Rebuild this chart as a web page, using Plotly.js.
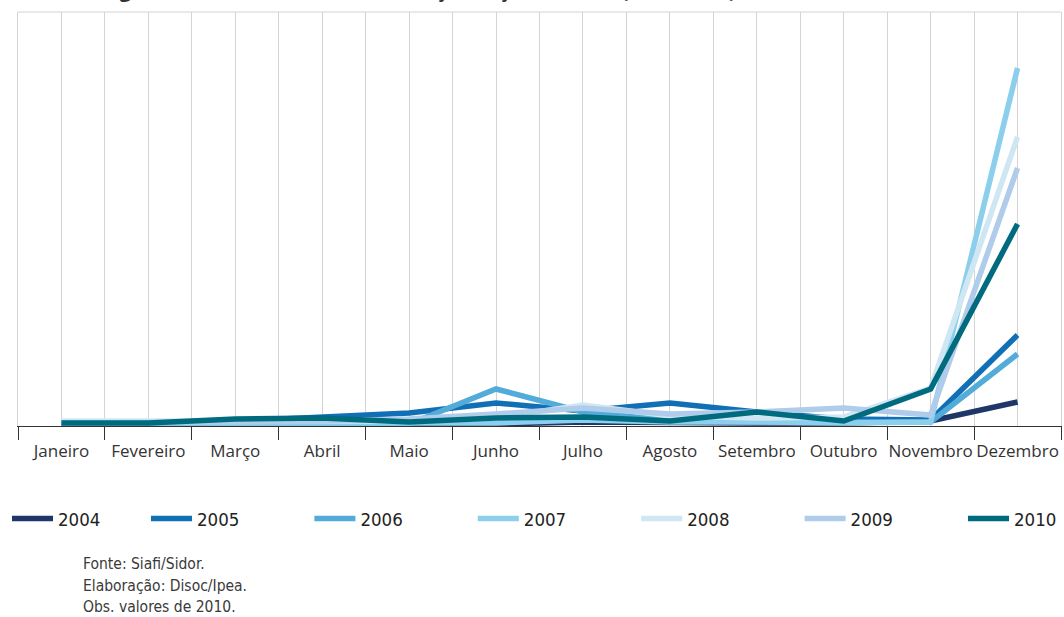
<!DOCTYPE html>
<html>
<head>
<meta charset="utf-8">
<script src="https://cdn.plot.ly/plotly-3.0.1.min.js"></script>
<style>
html,body{margin:0;padding:0;background:#fff;}
#chart{width:1064px;height:617px;}
</style>
</head>
<body>
<div id="chart"></div>
<script>
const months = ["Janeiro","Fevereiro","Março","Abril","Maio","Junho","Julho","Agosto","Setembro","Outubro","Novembro","Dezembro"];
const years = ["2004","2005","2006","2007","2008","2009","2010"];
const v2004 = [0, 0, 0, 0, 0, 0, 2, 1, 1, 1, 3, 22];
const v2005 = [0, 0, 3, 7, 11, 21, 13, 21, 12, 5, 4, 89];
const v2006 = [0, 0, 0, 0, 0, 35, 12, 4, 2, 2, 2, 70];
const v2007 = [1, 1, 1, 1, 1, 1, 4, 2, 2, 1, 2, 356];
const v2008 = [3, 3, 3, 3, 3, 6, 19, 8, 6, 7, 36, 287];
const v2009 = [1, 1, 2, 3, 5, 10, 16, 10, 12, 16, 9, 256];
const v2010 = [1, 1, 5, 6, 2, 6, 7, 3, 12, 3, 35, 200];
const seriesValues = [v2004, v2005, v2006, v2007, v2008, v2009, v2010];
const colors = ["#1f3669", "#1170b5", "#52abd8", "#8bcfec", "#cfe7f3", "#afcceb", "#006b7f"];
const legendGroups = ["legend", "legend2", "legend2", "legend2", "legend2", "legend2", "legend3"];
const titleText = "Figura 3 – Sazonalidade da execução orçamentária (2004-2010)";
const notes = ["Fonte: Siafi/Sidor.", "Elaboração: Disoc/Ipea.", "Obs. valores de 2010."];

const condensed = "DejaVu Sans Condensed, Liberation Sans Narrow, sans-serif";
const monthIndex = months.map((m, i) => i);
const boundaries = months.map((m, i) => i - 0.5).concat([months.length - 0.5]);

const traces = years.map((y, i) => ({
  type: "scatter",
  mode: "lines",
  name: y,
  legend: legendGroups[i],
  x: monthIndex,
  y: seriesValues[i],
  text: months,
  line: {color: colors[i], width: 5.5},
  hovertemplate: "%{text}: %{y}<extra>" + y + "</extra>"
}));

const annotations = notes.map((t, i) => ({
  text: t,
  xref: "paper", yref: "paper",
  x: (81 - 18) / 1043, xanchor: "left",
  y: -(564 + 21.5 * i - 426) / 414, yanchor: "middle",
  showarrow: false,
  font: {family: condensed, size: 15.5, color: "#3a3a3a"}
}));
annotations.push({
  text: "<b>" + titleText + "</b>",
  xref: "paper", yref: "paper",
  x: (100 - 18) / 1043, xanchor: "left",
  y: 1 + 23 / 414, yanchor: "middle",
  showarrow: false,
  font: {family: "Open Sans, sans-serif", size: 20.5, color: "#333"}
});

function legendAt(lineStartPx) {
  return {
    orientation: "h",
    xref: "container", yref: "container",
    x: (lineStartPx - 5) / 1064, xanchor: "left",
    y: 1 - 519 / 617, yanchor: "middle",
    itemwidth: 41,
    entrywidth: 107.4, entrywidthmode: "pixels",
    font: {family: condensed, size: 18.5, color: "#222"},
    traceorder: "normal",
    bgcolor: "rgba(0,0,0,0)"
  };
}

const layout = {
  width: 1064, height: 617,
  margin: {l: 18, r: 3, t: 12, b: 191},
  paper_bgcolor: "#fff", plot_bgcolor: "#fff",
  showlegend: true,
  legend: legendAt(12),
  legend2: legendAt(151),
  legend3: legendAt(968),
  xaxis: {
    type: "linear",
    range: [-0.5, 11.5],
    tickmode: "array", tickvals: monthIndex, ticktext: months,
    tickangle: 0,
    ticks: "",
    ticklabelstandoff: 10,
    showgrid: true, gridcolor: "#d4d4d4", gridwidth: 1,
    minor: {
      tickmode: "array", tickvals: boundaries,
      ticks: "outside", ticklen: 13, tickcolor: "#333", tickwidth: 1,
      showgrid: true, gridcolor: "#d4d4d4", gridwidth: 1
    },
    showline: true, linecolor: "#333", linewidth: 1,
    zeroline: false,
    tickfont: {family: "Open Sans, sans-serif", size: 17, color: "#333"},
    fixedrange: true
  },
  yaxis: {
    range: [-2, 412],
    showgrid: false, zeroline: false,
    showticklabels: false, ticks: "",
    showline: true, linecolor: "#d4d4d4", linewidth: 1, mirror: true,
    fixedrange: true
  },
  shapes: [{
    type: "line", xref: "paper", yref: "paper",
    x0: 0, x1: 1, y0: 1, y1: 1,
    line: {color: "#d4d4d4", width: 1}
  }],
  annotations: annotations
};

Plotly.newPlot("chart", traces, layout, {displayModeBar: false, responsive: false});
</script>
</body>
</html>
